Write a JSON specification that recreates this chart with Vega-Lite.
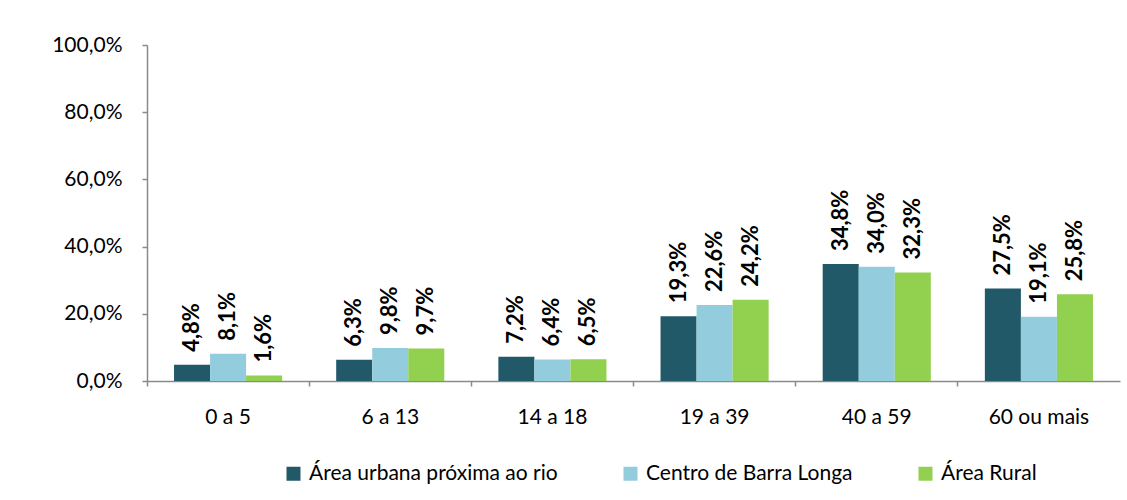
{
  "$schema": "https://vega.github.io/schema/vega-lite/v6.json",
  "width": 973,
  "height": 336,
  "autosize": {"type": "none"},
  "padding": {"left": 147, "top": 45, "right": 7, "bottom": 119},
  "background": "white",
  "config": {
    "locale": {"number": {"decimal": ",", "thousands": ".", "grouping": [3], "currency": ["R$", ""]}},
    "view": {"stroke": null},
    "font": "Lato",
    "axis": {"domainColor": "#8a8a8a", "domainWidth": 1.5, "tickColor": "#8a8a8a", "tickWidth": 1.5, "tickSize": 5, "labelColor": "black", "labelFont": "Lato", "grid": false, "title": null}
  },
  "data": {
    "values": [
      {"faixa": "0 a 5", "area": "Área urbana próxima ao rio", "v": 0.048},
      {"faixa": "0 a 5", "area": "Centro de Barra Longa", "v": 0.081},
      {"faixa": "0 a 5", "area": "Área Rural", "v": 0.016},
      {"faixa": "6 a 13", "area": "Área urbana próxima ao rio", "v": 0.063},
      {"faixa": "6 a 13", "area": "Centro de Barra Longa", "v": 0.098},
      {"faixa": "6 a 13", "area": "Área Rural", "v": 0.097},
      {"faixa": "14 a 18", "area": "Área urbana próxima ao rio", "v": 0.072},
      {"faixa": "14 a 18", "area": "Centro de Barra Longa", "v": 0.064},
      {"faixa": "14 a 18", "area": "Área Rural", "v": 0.065},
      {"faixa": "19 a 39", "area": "Área urbana próxima ao rio", "v": 0.193},
      {"faixa": "19 a 39", "area": "Centro de Barra Longa", "v": 0.226},
      {"faixa": "19 a 39", "area": "Área Rural", "v": 0.242},
      {"faixa": "40 a 59", "area": "Área urbana próxima ao rio", "v": 0.348},
      {"faixa": "40 a 59", "area": "Centro de Barra Longa", "v": 0.340},
      {"faixa": "40 a 59", "area": "Área Rural", "v": 0.323},
      {"faixa": "60 ou mais", "area": "Área urbana próxima ao rio", "v": 0.275},
      {"faixa": "60 ou mais", "area": "Centro de Barra Longa", "v": 0.191},
      {"faixa": "60 ou mais", "area": "Área Rural", "v": 0.258}
    ]
  },
  "encoding": {
    "x": {
      "field": "faixa", "type": "nominal",
      "sort": ["0 a 5", "6 a 13", "14 a 18", "19 a 39", "40 a 59", "60 ou mais"],
      "scale": {"paddingInner": 0, "paddingOuter": 0},
      "axis": {"bandPosition": 0, "labelAngle": 0, "labelFontSize": 21, "labelPadding": 20, "labelAlign": "center"}
    },
    "xOffset": {
      "field": "area", "type": "nominal",
      "sort": ["Área urbana próxima ao rio", "Centro de Barra Longa", "Área Rural"],
      "scale": {"paddingInner": 0, "paddingOuter": 0.75}
    },
    "y": {
      "field": "v", "type": "quantitative",
      "scale": {"domain": [0, 1], "nice": false},
      "axis": {"format": ".1%", "values": [0, 0.2, 0.4, 0.6, 0.8, 1.0], "labelFontSize": 21, "labelPadding": 20}
    }
  },
  "layer": [
    {
      "mark": {"type": "bar"},
      "encoding": {
        "color": {
          "field": "area", "type": "nominal",
          "sort": ["Área urbana próxima ao rio", "Centro de Barra Longa", "Área Rural"],
          "scale": {"domain": ["Área urbana próxima ao rio", "Centro de Barra Longa", "Área Rural"], "range": ["#215968", "#93CDDD", "#92D050"]},
          "legend": {
            "title": null, "orient": "none", "legendX": 136, "legendY": 418, "direction": "horizontal", "padding": 0,
            "symbolType": "square", "symbolSize": 196, "symbolStrokeWidth": 0,
            "labelFontSize": 21, "labelColor": "black", "labelOffset": 5,
            "columnPadding": 62, "labelLimit": 400
          }
        }
      }
    },
    {
      "mark": {"type": "text", "angle": -90, "align": "left", "baseline": "middle", "dx": 13, "fontWeight": "bold", "fontSize": 22, "color": "black"},
      "encoding": {
        "text": {"field": "v", "type": "quantitative", "format": ".1%"}
      }
    }
  ]
}
